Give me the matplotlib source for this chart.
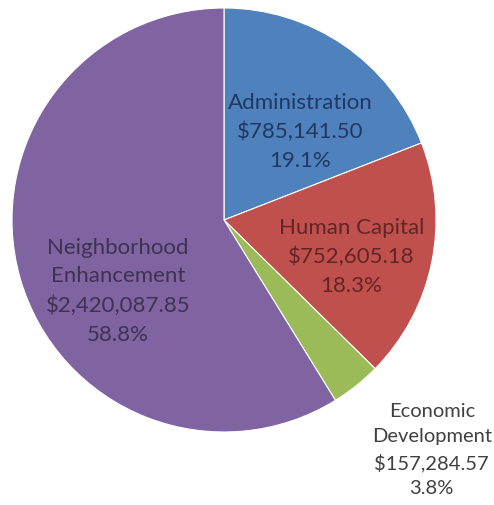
import matplotlib.pyplot as plt

plt.rcParams['font.family'] = ['Lato', 'DejaVu Sans']

names = ['Administration', 'Human Capital', 'Economic\nDevelopment', 'Neighborhood\nEnhancement']
amounts = [785141.50, 752605.18, 157284.57, 2420087.85]
colors = ['#4f81bd', '#c0504d', '#9bbb59', '#8064a2']
text_colors = ['#1f3864', '#632523', '#404040', '#3f3151']
label_pos = [(0.36, 0.415), (0.60, -0.175), (0.98, -1.085), (-0.50, -0.335)]
label_size = [16, 16, 14.5, 16]

total = sum(amounts)

fig = plt.figure(figsize=(4.94, 5.05), dpi=100)
ax = fig.add_axes([12 / 494, (505 - 432) / 505, 424 / 494, 424 / 505])
ax.pie(amounts, colors=colors, startangle=90, counterclock=False,
       radius=1, wedgeprops=dict(edgecolor='white', linewidth=0.8))

for name, amt, c, (x, y), fs in zip(names, amounts, text_colors, label_pos, label_size):
    txt = f'{name}\n${amt:,.2f}\n{amt / total * 100:.1f}%'
    ax.text(x, y, txt, ha='center', va='center', color=c, fontsize=fs,
            linespacing=1.55)

ax.set_xlim(-1, 1)
ax.set_ylim(-1, 1)
ax.set_aspect('equal')
ax.axis('off')

fig.savefig('out.png', dpi=100)
